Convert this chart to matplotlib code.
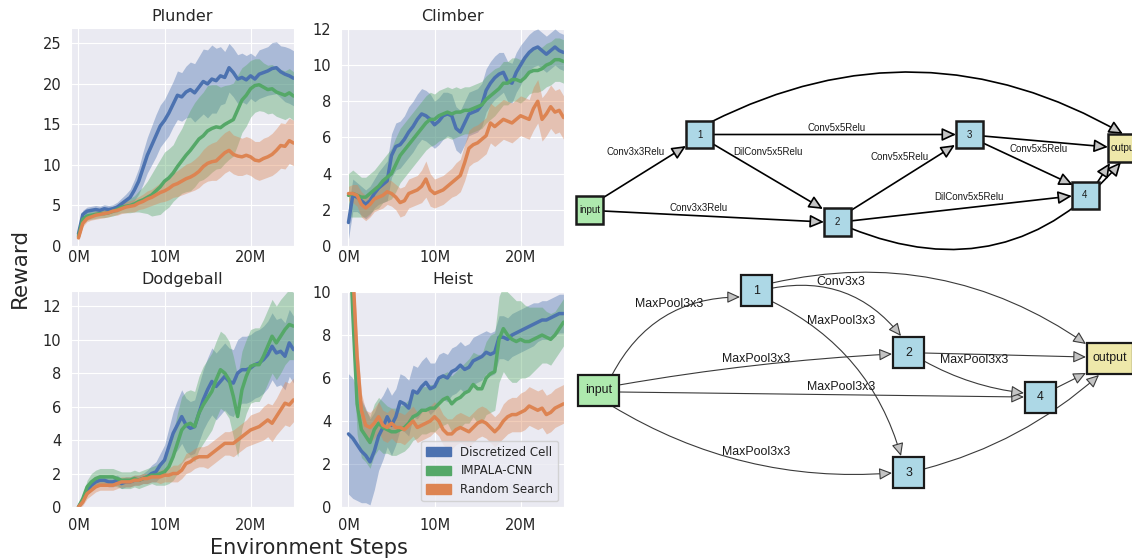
import numpy as np
import matplotlib
matplotlib.use("Agg")
import matplotlib.pyplot as plt
import seaborn as sns
from matplotlib.patches import Rectangle, FancyArrowPatch, Patch

# ---- training curves, one value every 0.5M steps (0 .. 25M) ----
STEPS = np.arange(51) * 0.5e6
METHODS = ["Discretized Cell", "IMPALA-CNN", "Random Search"]
COLORS = ["#4C72B0", "#55A868", "#DD8452"]

PL_DC = [1.5, 3.9, 4.3, 4.4, 4.5, 4.4, 4.6, 4.5, 4.6, 4.8,
         5.2, 5.6, 6.0, 6.9, 8.0, 9.6, 11.2, 12.4, 13.6, 14.8,
         15.5, 16.4, 17.5, 18.6, 18.4, 19.0, 19.3, 18.9, 19.6, 20.3,
         20.0, 20.6, 20.4, 21.0, 20.8, 22.0, 21.4, 20.6, 20.8, 20.5,
         21.0, 20.6, 21.2, 21.4, 21.6, 21.9, 22.0, 21.5, 21.2, 21.0,
         20.7]
PL_DC_SD = [0.3, 0.5, 0.5, 0.5, 0.5, 0.5, 0.5, 0.5, 0.5, 0.6,
            0.7, 0.8, 1.0, 1.3, 1.6, 2.0, 2.2, 2.4, 2.6, 2.6,
            2.6, 2.8, 2.8, 3.0, 3.0, 3.2, 3.4, 3.6, 3.8, 4.0,
            4.2, 4.2, 4.0, 3.6, 3.2, 3.0, 3.0, 3.0, 3.0, 3.0,
            2.8, 2.8, 3.0, 3.0, 3.0, 3.2, 3.2, 3.2, 3.4, 3.4,
            3.4]
PL_IM = [1.2, 3.3, 3.7, 3.8, 3.9, 4.0, 4.0, 4.1, 4.3, 4.5,
         4.8, 4.9, 5.0, 5.2, 5.5, 5.7, 6.0, 6.3, 6.8, 7.3,
         8.0, 8.4, 9.0, 9.8, 10.5, 11.2, 11.8, 12.5, 13.2, 13.6,
         14.2, 14.5, 14.7, 14.6, 15.0, 15.3, 15.6, 16.8, 18.0, 18.6,
         19.4, 19.8, 19.9, 19.6, 19.3, 19.4, 19.0, 18.8, 18.6, 18.9,
         18.5]
PL_IM_SD = [0.3, 0.5, 0.5, 0.5, 0.5, 0.5, 0.5, 0.5, 0.6, 0.6,
            0.7, 0.8, 0.9, 1.0, 1.3, 1.6, 2.0, 2.6, 3.0, 3.4,
            3.6, 3.6, 3.5, 3.8, 4.0, 4.5, 5.0, 5.2, 5.2, 5.4,
            5.6, 5.4, 5.2, 5.0, 4.8, 4.6, 4.5, 4.3, 4.0, 3.8,
            3.5, 3.3, 3.2, 3.0, 3.0, 3.0, 3.0, 3.0, 3.0, 3.0,
            3.0]
PL_RS = [1.0, 2.8, 3.4, 3.6, 3.8, 3.9, 4.0, 4.1, 4.3, 4.4,
         4.6, 4.8, 4.9, 5.0, 5.3, 5.5, 5.8, 6.0, 6.3, 6.6,
         6.8, 7.1, 7.5, 7.7, 8.0, 8.3, 8.5, 8.8, 9.2, 9.8,
         10.2, 10.4, 10.5, 11.0, 11.5, 11.8, 11.3, 11.1, 11.0, 11.2,
         11.0, 10.6, 10.5, 10.8, 11.0, 11.3, 11.8, 12.4, 12.3, 13.0,
         12.7]
PL_RS_SD = [0.3, 0.4, 0.4, 0.4, 0.5, 0.5, 0.5, 0.5, 0.5, 0.6,
            0.6, 0.7, 0.7, 0.8, 0.8, 0.9, 1.0, 1.0, 1.1, 1.2,
            1.3, 1.4, 1.5, 1.6, 1.7, 1.8, 1.8, 1.9, 2.0, 2.1,
            2.2, 2.3, 2.4, 2.5, 2.5, 2.5, 2.4, 2.4, 2.3, 2.3,
            2.3, 2.3, 2.4, 2.5, 2.5, 2.6, 2.7, 2.8, 2.8, 2.8,
            2.8]

CL_DC = [1.3, 2.8, 2.7, 2.5, 2.3, 2.5, 2.9, 3.2, 3.4, 3.6,
         5.0, 5.5, 5.6, 5.9, 6.3, 6.6, 7.0, 7.3, 7.2, 7.0,
         6.7, 6.9, 7.2, 7.3, 7.2, 6.5, 6.3, 6.8, 7.3, 7.4,
         7.5, 7.8, 8.6, 9.0, 9.3, 9.5, 9.6, 9.1, 9.0, 9.6,
         10.0, 10.4, 10.7, 10.9, 11.0, 10.8, 10.6, 10.8, 11.0, 10.8,
         10.7]
CL_DC_SD = [0.9, 0.9, 0.8, 0.8, 0.8, 0.8, 0.8, 0.9, 1.0, 1.1,
            1.2, 1.3, 1.3, 1.3, 1.4, 1.4, 1.4, 1.4, 1.4, 1.4,
            1.3, 1.3, 1.3, 1.2, 1.2, 1.2, 1.2, 1.2, 1.2, 1.2,
            1.2, 1.2, 1.2, 1.2, 1.2, 1.2, 1.1, 1.1, 1.1, 1.1,
            1.1, 1.0, 1.0, 1.0, 1.0, 1.0, 1.0, 1.0, 1.0, 1.0,
            1.0]
CL_IM = [2.8, 2.9, 2.8, 2.7, 2.7, 2.9, 3.1, 3.3, 3.6, 3.8,
         4.0, 4.5, 5.0, 5.3, 5.6, 5.9, 6.2, 6.5, 6.8, 7.0,
         7.0, 7.2, 7.3, 7.4, 7.3, 7.4, 7.4, 7.5, 7.5, 7.6,
         7.7, 7.8, 8.1, 8.3, 8.5, 8.7, 9.0, 9.0, 9.2, 9.2,
         9.1, 9.3, 9.6, 9.7, 9.7, 9.8, 10.0, 10.1, 10.3, 10.3,
         10.2]
CL_IM_SD = [1.2, 1.3, 1.2, 1.1, 1.1, 1.1, 1.1, 1.2, 1.2, 1.3,
            1.4, 1.5, 1.5, 1.5, 1.5, 1.5, 1.5, 1.5, 1.5, 1.5,
            1.4, 1.4, 1.4, 1.4, 1.4, 1.4, 1.3, 1.3, 1.3, 1.3,
            1.3, 1.3, 1.3, 1.3, 1.3, 1.2, 1.2, 1.2, 1.2, 1.2,
            1.2, 1.2, 1.2, 1.2, 1.2, 1.2, 1.2, 1.2, 1.2, 1.2,
            1.2]
CL_RS = [2.9, 2.9, 2.8, 2.3, 2.1, 2.3, 2.6, 2.7, 2.8, 3.0,
         2.9, 2.7, 2.4, 2.5, 2.9, 3.0, 3.1, 3.3, 3.7, 3.1,
         2.9, 3.0, 3.1, 3.3, 3.5, 3.7, 3.9, 4.6, 5.4, 5.6,
         5.7, 5.9, 6.1, 6.8, 6.6, 6.8, 7.0, 6.9, 6.8, 7.0,
         7.2, 7.1, 7.0, 7.6, 8.0, 7.0, 7.3, 7.7, 7.4, 7.5,
         7.1]
CL_RS_SD = [0.4, 0.5, 0.6, 0.7, 0.7, 0.7, 0.7, 0.7, 0.7, 0.7,
            0.7, 0.7, 0.8, 0.8, 0.8, 0.8, 0.8, 0.9, 1.0, 0.9,
            0.8, 0.8, 0.8, 0.8, 0.8, 0.9, 0.9, 1.0, 1.0, 1.0,
            1.0, 1.0, 1.0, 1.1, 1.1, 1.1, 1.1, 1.1, 1.1, 1.1,
            1.1, 1.1, 1.1, 1.2, 1.2, 1.2, 1.2, 1.2, 1.2, 1.2,
            1.2]

DG_DC = [0.0, 0.4, 1.0, 1.3, 1.5, 1.6, 1.6, 1.5, 1.5, 1.6,
         1.4, 1.5, 1.5, 1.6, 1.6, 1.7, 1.8, 2.0, 2.1, 2.5,
         2.8, 3.6, 4.4, 4.9, 5.4, 4.9, 4.7, 4.8, 5.6, 6.4,
         7.0, 7.5, 7.2, 7.5, 7.8, 7.5, 7.4, 8.0, 8.2, 8.2,
         8.3, 8.5, 8.6, 8.8, 9.1, 9.6, 9.2, 9.3, 9.0, 9.8,
         9.4]
DG_DC_SD = [0.1, 0.2, 0.3, 0.3, 0.3, 0.3, 0.3, 0.3, 0.3, 0.3,
            0.3, 0.3, 0.3, 0.3, 0.3, 0.3, 0.4, 0.5, 0.6, 0.7,
            0.9, 1.1, 1.3, 1.5, 1.6, 1.6, 1.6, 1.6, 1.7, 1.8,
            1.9, 2.0, 2.0, 2.0, 2.0, 2.0, 2.0, 2.0, 2.0, 2.0,
            2.0, 2.0, 2.0, 2.0, 2.0, 2.0, 2.0, 2.0, 2.0, 2.0,
            2.0]
DG_IM = [0.0, 0.5, 1.2, 1.5, 1.7, 1.8, 1.8, 1.8, 1.8, 1.7,
         1.6, 1.6, 1.6, 1.7, 1.6, 1.7, 1.8, 1.9, 1.9, 2.0,
         2.1, 2.4, 3.0, 3.8, 4.6, 4.9, 5.0, 4.8, 5.6, 6.1,
         6.5, 6.9, 7.6, 8.2, 8.0, 7.6, 6.6, 5.4, 7.0, 7.8,
         8.4, 8.5, 8.5, 9.0, 9.6, 10.2, 9.8, 10.2, 10.6, 10.9,
         10.8]
DG_IM_SD = [0.1, 0.2, 0.4, 0.5, 0.5, 0.5, 0.5, 0.5, 0.5, 0.5,
            0.5, 0.5, 0.5, 0.5, 0.5, 0.5, 0.5, 0.5, 0.6, 0.7,
            0.8, 1.0, 1.4, 1.8, 2.0, 2.0, 2.0, 2.1, 2.2, 2.3,
            2.3, 2.3, 2.3, 2.3, 2.3, 2.3, 2.4, 2.4, 2.3, 2.2,
            2.2, 2.2, 2.2, 2.2, 2.2, 2.2, 2.2, 2.2, 2.1, 2.1,
            2.0]
DG_RS = [0.0, 0.3, 0.8, 1.0, 1.2, 1.3, 1.3, 1.3, 1.3, 1.4,
         1.5, 1.5, 1.5, 1.6, 1.6, 1.7, 1.7, 1.8, 1.8, 1.8,
         1.9, 1.9, 2.0, 2.0, 2.2, 2.6, 2.7, 2.9, 3.0, 3.0,
         3.0, 3.2, 3.4, 3.6, 3.8, 3.8, 3.8, 4.0, 4.2, 4.4,
         4.6, 4.7, 4.8, 5.0, 5.2, 5.0, 5.4, 5.8, 6.2, 6.1,
         6.4]
DG_RS_SD = [0.1, 0.2, 0.3, 0.3, 0.3, 0.3, 0.3, 0.3, 0.3, 0.3,
            0.3, 0.3, 0.3, 0.3, 0.3, 0.3, 0.3, 0.3, 0.3, 0.4,
            0.4, 0.4, 0.5, 0.5, 0.5, 0.6, 0.6, 0.6, 0.6, 0.6,
            0.7, 0.7, 0.7, 0.7, 0.7, 0.7, 0.8, 0.8, 0.8, 0.8,
            0.9, 0.9, 0.9, 1.0, 1.0, 1.1, 1.1, 1.2, 1.3, 1.3,
            1.3]

HE_DC = [3.4, 3.2, 2.9, 2.6, 2.4, 2.1, 2.6, 3.3, 3.7, 4.2,
         3.8, 4.2, 4.9, 4.8, 4.6, 5.4, 5.3, 5.6, 5.8, 5.5,
         5.6, 6.0, 6.1, 6.0, 6.3, 6.4, 6.6, 6.4, 6.5, 6.8,
         6.9, 7.0, 7.2, 7.1, 7.2, 7.9, 7.9, 7.8, 8.0, 8.1,
         8.2, 8.3, 8.4, 8.5, 8.6, 8.7, 8.7, 8.8, 8.9, 9.0,
         9.0]
HE_DC_SD = [2.8, 2.8, 2.6, 2.4, 2.2, 2.0, 1.8, 1.6, 1.5, 1.4,
            1.4, 1.3, 1.3, 1.3, 1.3, 1.2, 1.2, 1.2, 1.2, 1.2,
            1.1, 1.1, 1.1, 1.1, 1.1, 1.1, 1.1, 1.1, 1.1, 1.1,
            1.1, 1.1, 1.0, 1.0, 1.0, 1.0, 1.0, 1.0, 1.0, 1.0,
            1.0, 1.0, 1.0, 1.0, 0.9, 0.9, 0.9, 0.9, 0.9, 0.9,
            0.9]
HE_IM = [14.0, 9.0, 4.8, 3.6, 3.3, 3.0, 3.6, 3.9, 3.7, 3.6,
         3.5, 3.5, 3.6, 3.7, 3.9, 4.2, 4.3, 4.5, 4.5, 4.6,
         4.6, 4.8, 5.0, 5.1, 4.8, 5.0, 5.1, 5.3, 5.4, 5.7,
         5.5, 5.5, 6.0, 6.2, 6.3, 7.8, 8.3, 8.0, 7.8, 7.7,
         7.8, 7.7, 7.7, 7.8, 7.9, 8.0, 7.9, 7.8, 8.0, 8.3,
         8.6]
HE_IM_SD = [1.5, 1.5, 1.4, 1.3, 1.2, 1.2, 1.2, 1.2, 1.2, 1.1,
            1.1, 1.1, 1.1, 1.1, 1.1, 1.1, 1.1, 1.1, 1.1, 1.1,
            1.1, 1.1, 1.2, 1.2, 1.3, 1.3, 1.4, 1.4, 1.5, 1.5,
            1.6, 1.6, 1.7, 1.8, 1.8, 2.0, 2.0, 2.0, 2.0, 1.9,
            1.8, 1.7, 1.6, 1.5, 1.4, 1.3, 1.2, 1.2, 1.1, 1.1,
            1.1]
HE_RS = [14.5, 11.0, 7.0, 4.5, 3.8, 3.7, 3.9, 4.2, 3.8, 3.7,
         3.9, 3.7, 3.7, 3.6, 3.8, 4.0, 3.7, 3.8, 3.9, 4.0,
         4.2, 4.0, 3.6, 3.4, 3.4, 3.6, 3.7, 3.6, 3.5, 3.7,
         3.9, 4.0, 3.9, 3.7, 3.5, 3.7, 4.0, 4.2, 4.3, 4.3,
         4.4, 4.5, 4.7, 4.6, 4.5, 4.6, 4.3, 4.4, 4.6, 4.7,
         4.8]
HE_RS_SD = [1.0, 1.0, 0.9, 0.8, 0.7, 0.7, 0.7, 0.7, 0.7, 0.7,
            0.7, 0.7, 0.7, 0.7, 0.7, 0.7, 0.7, 0.7, 0.7, 0.7,
            0.7, 0.7, 0.7, 0.7, 0.7, 0.7, 0.7, 0.7, 0.7, 0.7,
            0.7, 0.7, 0.7, 0.7, 0.7, 0.7, 0.8, 0.8, 0.8, 0.8,
            0.9, 0.9, 0.9, 0.9, 0.9, 0.9, 0.9, 0.9, 0.9, 0.9,
            0.9]

GAMES = ["Plunder", "Climber", "Dodgeball", "Heist"]
YTICKS = [[0, 5, 10, 15, 20, 25], [0, 2, 4, 6, 8, 10, 12],
          [0, 2, 4, 6, 8, 10, 12], [0, 2, 4, 6, 8, 10]]
YTOP = [26.9, 12.05, 12.9, 10.05]
CURVES = [[(PL_DC, PL_DC_SD), (PL_IM, PL_IM_SD), (PL_RS, PL_RS_SD)],
          [(CL_DC, CL_DC_SD), (CL_IM, CL_IM_SD), (CL_RS, CL_RS_SD)],
          [(DG_DC, DG_DC_SD), (DG_IM, DG_IM_SD), (DG_RS, DG_RS_SD)],
          [(HE_DC, HE_DC_SD), (HE_IM, HE_IM_SD), (HE_RS, HE_RS_SD)]]

# ---- search-cell graphs (pixel layout of the right half) ----
TOP_NODES = {"input": (589.5, 210, 27, 28), "1": (699.5, 134.5, 27, 27),
             "2": (837, 222, 27, 28), "3": (969.5, 134.5, 27, 27),
             "4": (1085, 195, 27, 27), "output": (1124, 148, 32, 28)}
TOP_EDGES = [((601, 199), (686, 146), 0.0), ((603, 211), (824, 222), 0.0),
             ((713, 144), (823, 209), 0.0), ((713, 134.5), (956, 134.5), 0.0),
             ((711, 122), (1123, 134), -0.27), ((850, 211), (955, 145), 0.0),
             ((850, 221), (1072, 196), 0.0), ((850, 228), (1121, 162), 0.36),
             ((983, 136), (1108, 147), 0.0), ((983, 143), (1073, 185), 0.0),
             ((1097, 183), (1110, 163), 0.0)]
TOP_LABELS = [("Conv3x3Relu", 636, 152), ("Conv3x3Relu", 699, 208),
              ("DilConv5x5Relu", 768, 152), ("Conv5x5Relu", 837, 128),
              ("Conv5x5Relu", 900, 157), ("DilConv5x5Relu", 969, 197),
              ("Conv5x5Relu", 1039, 149)]

BOT_NODES = {"input": (598.5, 390.5, 41, 31), "1": (756.5, 290.5, 31, 31),
             "2": (908.5, 352.5, 31, 31), "3": (908.5, 472.5, 31, 31),
             "4": (1040.5, 397.5, 31, 31), "output": (1110, 358.5, 46, 31)}
BOT_EDGES = [((612, 375), (740, 297), -0.3), ((619, 385), (892, 354), -0.03),
             ((619, 392), (1024, 397), 0.0), ((612, 406), (892, 473), 0.16),
             ((772, 283), (1086, 344), -0.22), ((773, 288), (901, 336), -0.3),
             ((773, 302), (901, 456), -0.22), ((924, 353), (1086, 357), 0.0),
             ((924, 361), (1024, 393), 0.1), ((1056, 388), (1086, 373), 0.0),
             ((924, 469), (1099, 375), 0.12)]
BOT_LABELS = [("MaxPool3x3", 669, 304), ("MaxPool3x3", 756, 359),
              ("MaxPool3x3", 841, 387), ("MaxPool3x3", 756, 452),
              ("Conv3x3", 841, 282), ("MaxPool3x3", 841, 321),
              ("MaxPool3x3", 974, 360)]

NODE_COLORS = {"input": "#aee9ae", "output": "#eee8aa"}

W, H = 1132, 558
sns.set_style("darkgrid")
plt.rcParams["font.family"] = ["DejaVu Sans"]

fig = plt.figure(figsize=(W / 100, H / 100), dpi=100)

# axes boxes in pixels: left, top, right, bottom
boxes = [(71, 28, 294, 246), (341, 28, 564, 246), (71, 291, 294, 507), (341, 291, 564, 507)]
for k, game in enumerate(GAMES):
    l, t, r, b = boxes[k]
    ax = fig.add_axes([l / W, 1 - b / H, (r - l) / W, (b - t) / H])
    for (mean, sd), c in zip(CURVES[k], COLORS):
        m = np.array(mean)
        s = np.array(sd)
        ax.fill_between(STEPS, m - s, m + s, color=c, alpha=0.4, lw=0)
        ax.plot(STEPS, m, color=c, lw=2.5)
    ax.set_xlim(-0.87e6, 25.05e6)
    ax.set_ylim(0, YTOP[k])
    ax.set_yticks(YTICKS[k])
    ax.set_xticks([0, 10e6, 20e6])
    ax.set_xticklabels(["0M", "10M", "20M"])
    ax.tick_params(axis="both", length=0, labelsize=10.5, colors="#262626")
    ax.tick_params(axis="y", pad=7)
    ax.tick_params(axis="x", pad=3 if k < 2 else 8)
    ax.set_title(game, fontsize=11.5, color="#262626", pad=5)
    if game == "Heist":
        handles = [Patch(facecolor=c, edgecolor=c) for c in COLORS]
        ax.legend(handles, METHODS, loc="lower right", fontsize=8.5,
                  handlelength=2.1, handleheight=0.9)

fig.text(20 / W, 1 - 268 / H, "Reward", rotation=90, fontsize=15.5,
         ha="center", va="center", color="#262626")
fig.text(309 / W, 1 - 548 / H, "Environment Steps", fontsize=15,
         ha="center", va="center", color="#262626")

# overlay in pixel coordinates for the two cell diagrams
g = fig.add_axes([0, 0, 1, 1])
g.set_xlim(0, W)
g.set_ylim(H, 0)
g.axis("off")


def draw_graph(nodes, edges, labels, lw, line_color, fs, node_lw, head):
    for a, b, rad in edges:
        g.add_patch(FancyArrowPatch(a, b, arrowstyle="-|>,head_length=0.65,head_width=0.3",
                                    connectionstyle=f"arc3,rad={rad}", mutation_scale=head,
                                    lw=lw, edgecolor=line_color, facecolor="#c4c4c4",
                                    shrinkA=0, shrinkB=0, zorder=2))
    for name, (cx, cy, w, h) in nodes.items():
        g.add_patch(Rectangle((cx - w / 2, cy - h / 2), w, h, lw=node_lw, edgecolor="#1a1a1a",
                              facecolor=NODE_COLORS.get(name, "#add8e6"), zorder=3))
        g.text(cx, cy, name, fontsize=fs, ha="center", va="center",
               family="Liberation Sans", color="#1a1a1a", zorder=4)
    for txt, x, y in labels:
        g.text(x, y, txt, fontsize=fs, ha="center", va="center",
               family="Liberation Sans", color="#1a1a1a", zorder=4)


draw_graph(TOP_NODES, TOP_EDGES, TOP_LABELS, 1.2, "black", 7, 1.8, 13)
draw_graph(BOT_NODES, BOT_EDGES, BOT_LABELS, 0.8, "#3a3a3a", 8.9, 1.6, 12)

fig.savefig("out.png", dpi=100)
